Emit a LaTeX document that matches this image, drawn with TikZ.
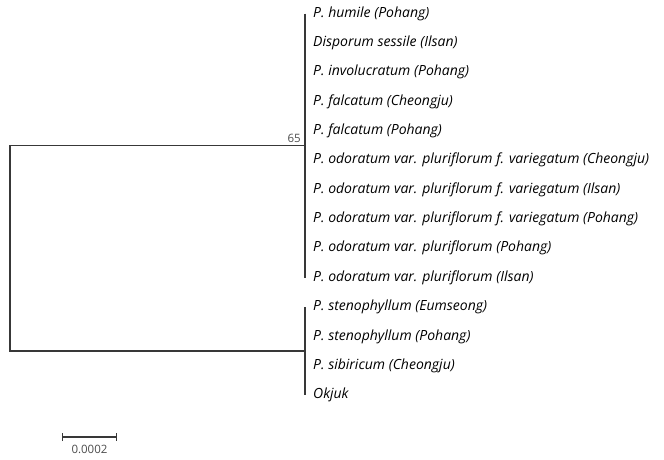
\documentclass[tikz,border=0pt]{standalone}
\usepackage{fontspec}
\setmainfont{Open Sans}
\usetikzlibrary{arrows.meta}

\begin{document}
\begin{tikzpicture}[x=1pt,y=-1pt,
    branch/.style={draw=black!78,line width=1.4pt},
    taxon/.style={anchor=west,inner sep=0pt,font=\fontsize{14}{16}\selectfont\itshape},
    support/.style={anchor=south east,inner sep=0pt,text=black!70,font=\fontsize{11.5}{13}\selectfont}]
            \useasboundingbox (0,0) rectangle (664,459);
            \node[taxon] (t1) at (313,13.5) {P. humile (Pohang)};
            \node[taxon] (t2) at (313,42.9) {Disporum sessile (Ilsan)};
            \node[taxon] (t3) at (313,72.2) {P. involucratum (Pohang)};
            \node[taxon] (t4) at (313,101.6) {P. falcatum (Cheongju)};
            \node[taxon] (t5) at (313,130.9) {P. falcatum (Pohang)};
            \node[taxon] (t6) at (313,160.3) {P. odoratum var. pluriflorum f. variegatum (Cheongju)};
            \node[taxon] (t7) at (313,189.6) {P. odoratum var. pluriflorum f. variegatum (Ilsan)};
            \node[taxon] (t8) at (313,219.0) {P. odoratum var. pluriflorum f. variegatum (Pohang)};
            \node[taxon] (t9) at (313,248.3) {P. odoratum var. pluriflorum (Pohang)};
            \node[taxon] (t10) at (313,277.7) {P. odoratum var. pluriflorum (Ilsan)};
            \node[taxon] (t11) at (313,307.0) {P. stenophyllum (Eumseong)};
            \node[taxon] (t12) at (313,336.4) {P. stenophyllum (Pohang)};
            \node[taxon] (t13) at (313,365.7) {P. sibiricum (Cheongju)};
            \node[taxon] (t14) at (313,395.1) {Okjuk};
            \coordinate (upper) at (305,145.6);
            \coordinate (lower) at (305,351.0);
            \coordinate (root) at (10,248.3);
            \draw[branch] (t1.west -| upper) -- (t10.west -| upper);
            \draw[branch] (t11.west -| lower) -- (t14.west -| lower);
            \draw[branch] (upper) -| (root) |- (lower);
            \node[support] (boot) at ([xshift=-4pt,yshift=3pt]upper) {65};
            \coordinate (barl) at (62,437);
            \coordinate (barr) at (117,437);
            \draw[branch,line width=1.2pt,{Bar[width=8pt]}-{Bar[width=8pt]}] (barl) -- (barr) node[midway,below=8pt,inner sep=0pt,text=black!70,font=\fontsize{11.5}{13}\selectfont] (scale) {0.0002};
        \end{tikzpicture}
\end{document}
